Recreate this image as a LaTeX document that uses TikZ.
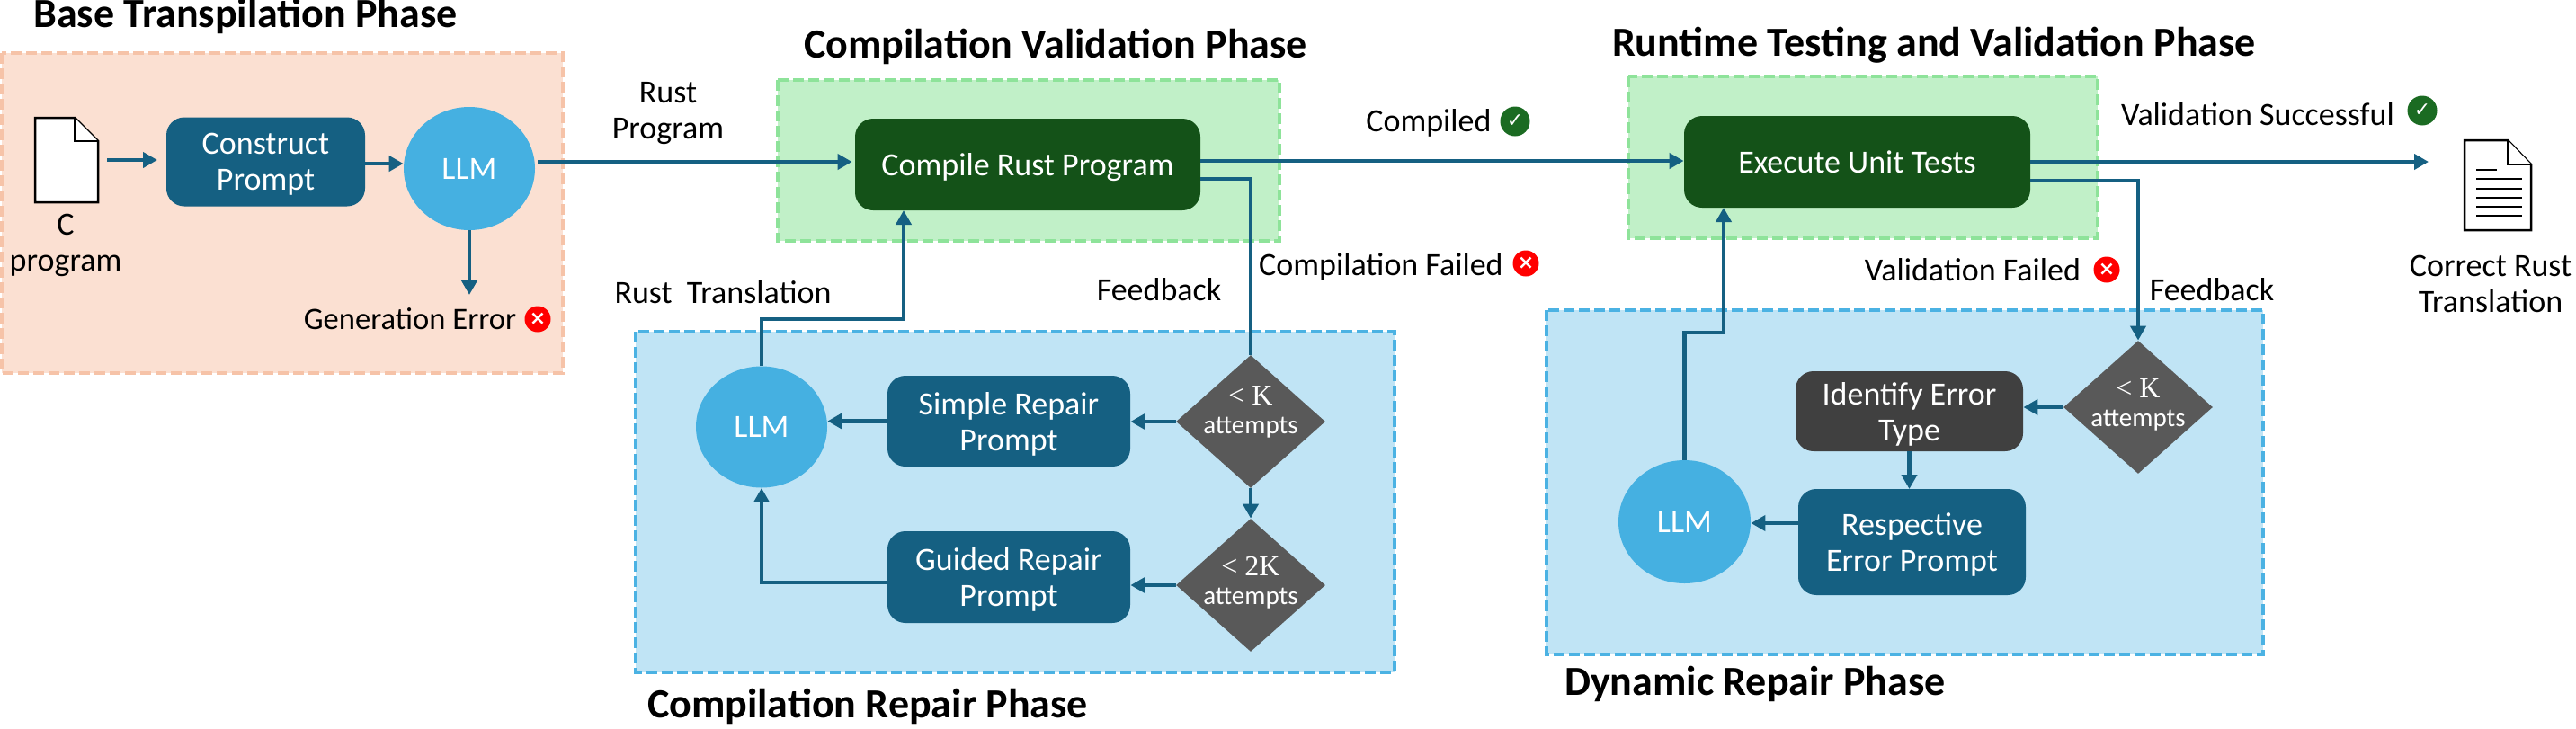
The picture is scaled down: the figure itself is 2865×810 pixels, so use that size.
\documentclass[tikz,border=0pt]{standalone}
\usepackage{fontspec}
\setmainfont{Carlito}
\newfontfamily\serifk{Liberation Serif}
\newfontfamily\symbfont{DejaVu Sans}
\usetikzlibrary{arrows.meta,shapes.geometric}
\newlength{\du}
\setlength{\du}{0.5pt}
\newcommand{\ktxt}{\serifk\fontsize{16}{16}\selectfont}
\definecolor{peachfill}{HTML}{FBE0D2}
\definecolor{peachline}{HTML}{F6C3A8}
\definecolor{greenfill}{HTML}{C1F0C8}
\definecolor{greenline}{HTML}{8EE39A}
\definecolor{bluefill}{HTML}{C0E4F5}
\definecolor{blueline}{HTML}{4BB2E3}
\definecolor{stepblue}{HTML}{156082}
\definecolor{llmblue}{HTML}{45B0E1}
\definecolor{rungreen}{HTML}{145218}
\definecolor{diagray}{HTML}{595959}
\definecolor{typegray}{HTML}{404040}
\definecolor{okgreen}{HTML}{1B6B22}
\tikzset{
  phasebox/.style={line width=4\du,dash pattern=on 12\du off 5\du},
  stepbox/.style={rectangle,rounded corners=20\du,fill=stepblue,text=white,align=center,text depth=0pt,font=\fontsize{18}{20}\selectfont},
  llm/.style={ellipse,fill=llmblue,text=white,inner sep=0pt,font=\fontsize{18}{20}\selectfont},
  dia/.style={diamond,fill=diagray,inner sep=0pt,aspect=1.13,minimum width=166\du,minimum height=148\du},
  attempts/.style={text=white,align=center,inner sep=0pt,font=\fontsize{14.5}{16}\selectfont},
  txt/.style={align=center,inner sep=0pt,font=\fontsize{18}{20}\selectfont},
  phasetitle/.style={inner sep=0pt,font=\fontsize{23}{25}\selectfont\bfseries},
  flow/.style={draw=stepblue,line width=2.1pt,-{Triangle[length=8pt,width=8.5pt]}},
  plain/.style={draw=stepblue,line width=2.1pt},
  badge/.style={circle,inner sep=0pt,minimum size=29\du,text=white,font=\symbfont\fontsize{11}{11}\selectfont\bfseries},
  docshape/.style={draw=black,line width=2.5\du,fill=white,line join=miter}
}
\begin{document}
\begin{tikzpicture}[x=\du,y=-\du]
\useasboundingbox (0,0) rectangle (2865,810);
% phase boxes
\fill[peachfill] (2,59) rectangle (626,415);
\draw[phasebox,peachline] (2,59) rectangle (626,415);
\fill[greenfill] (865,89) rectangle (1423,268);
\draw[phasebox,greenline] (865,89) rectangle (1423,268);
\fill[greenfill] (1811,85) rectangle (2333,265);
\draw[phasebox,greenline] (1811,85) rectangle (2333,265);
\fill[bluefill] (707,369) rectangle (1551,748);
\draw[phasebox,blueline] (707,369) rectangle (1551,748);
\fill[bluefill] (1720,345) rectangle (2517,728);
\draw[phasebox,blueline] (1720,345) rectangle (2517,728);
% titles
\node[phasetitle] (base title) at (273,18) {Base Transpilation Phase};
\node[phasetitle] (comp title) at (1174,52) {Compilation Validation Phase};
\node[phasetitle] (run title) at (2151,50) {Runtime Testing and Validation Phase};
\node[phasetitle] (repair title) at (965,786) {Compilation Repair Phase};
\node[phasetitle] (dyn title) at (1952,761) {Dynamic Repair Phase};
% steps
\node[stepbox,minimum width=221\du,minimum height=99\du] (construct) at (295.5,180) {Construct\\Prompt};
\node[llm,minimum width=146\du,minimum height=137\du] (llm1) at (522,187.5) {LLM};
\node[stepbox,fill=rungreen,minimum width=384\du,minimum height=102\du] (compile) at (1143,183) {Compile Rust Program};
\node[stepbox,fill=rungreen,minimum width=385\du,minimum height=102\du] (execute) at (2065.5,180) {Execute Unit Tests};
\node[llm,minimum width=146\du,minimum height=135\du] (llm2) at (847,475) {LLM};
\node[stepbox,minimum width=270\du,minimum height=101\du] (simple) at (1122,468.5) {Simple Repair\\Prompt};
\node[stepbox,minimum width=270\du,minimum height=102\du] (guided) at (1122,642) {Guided Repair\\Prompt};
\node[dia] (dk1) at (1391,469) {};
\node[attempts] (dk1 text) at (1391,458) {{\ktxt < K}\\attempts};
\node[dia] (dk2) at (1391,651) {};
\node[attempts] (dk2 text) at (1391,648) {{\ktxt < 2K}\\attempts};
\node[dia] (dk3) at (2378,453) {};
\node[attempts] (dk3 text) at (2378,450) {{\ktxt < K}\\attempts};
\node[stepbox,fill=typegray,minimum width=253\du,minimum height=89\du] (identify) at (2123.5,457.5) {Identify Error\\Type};
\node[stepbox,minimum width=253\du,minimum height=118\du] (respective) at (2126.5,603) {Respective\\Error Prompt};
\node[llm,minimum width=147\du,minimum height=137\du] (llm3) at (1873.5,580.5) {LLM};
% documents
\draw[docshape] (39,131)--(83,131)--(109,157)--(109,225)--(39,225)--cycle;
\draw[docshape] (83,131)--(83,157)--(109,157);
\draw[docshape] (2741,156)--(2789,156)--(2815,183)--(2815,256)--(2741,256)--cycle;
\draw[docshape] (2789,156)--(2789,183)--(2815,183);
\draw[black,line width=2.5\du] (2754,189)--(2777,189);
\foreach \ypos in {199,210,220,230,240}
  \draw[black,line width=2.5\du] (2754,\ypos)--(2805,\ypos);
% labels
\node[txt] (c label) at (73,273) {C\\program};
\node[txt] (rust program) at (743,126) {Rust\\Program};
\node[txt,font=\fontsize{17.3}{20}\selectfont] (gen error) at (456,355) {Generation Error};
\node[badge,fill=red] (gen badge) at (598,355) {×};
\node[txt] (compiled) at (1589,137) {Compiled};
\node[badge,fill=okgreen,minimum size=33\du] (compiled badge) at (1685,135) {✓};
\node[txt] (comp failed) at (1536,297) {Compilation Failed};
\node[badge,fill=red] (failed badge) at (1697,293) {×};
\node[txt] (rust translation) at (804,325) {Rust\ \ Translation};
\node[txt] (feedback1) at (1289,322) {Feedback};
\node[txt] (val ok) at (2511,127) {Validation Successful};
\node[badge,fill=okgreen,minimum size=33\du] (ok badge) at (2694,123) {✓};
\node[txt] (val failed) at (2194,300) {Validation Failed};
\node[badge,fill=red] (val badge) at (2343,300) {×};
\node[txt] (feedback2) at (2460,322) {Feedback};
\node[txt] (correct) at (2770,316) {Correct Rust\\Translation};
% connectors
\coordinate (cin) at (119,178);
\coordinate (cout) at (175,178);
\coordinate (llmerr) at (522,328);
\coordinate (rust out) at (2701,180);
\draw[flow] (cin) -- (cout);
\draw[flow] (construct.east |- 0,182) -- (llm1.west |- 0,182);
\draw[flow] (llm1.south) -- (llmerr);
\draw[flow,shorten >=3\du] (598,180) -- (compile.west |- 0,180);
\draw[flow] (compile.east |- 0,179) -- (execute.west |- 0,179);
\draw[plain] (compile.east |- 0,199) -| (dk1.north);
\draw[flow] (dk1.west) -- (simple.east |- dk1.west);
\draw[flow] (simple.west) -- (llm2.east |- simple.west);
\draw[flow] (dk1.south) -- (dk2.north);
\draw[flow] (dk2.west) -- (guided.east |- dk2.west);
\draw[flow] (guided.west |- 0,648) -| (llm2.south);
\draw[flow] (llm2.north) |- (1005,355) -- (1005,234);
\draw[flow] (execute.east |- 0,180) -- (rust out);
\draw[flow] (execute.east |- 0,201) -| (dk3.north);
\draw[flow] (dk3.west) -- (identify.east |- dk3.west);
\draw[flow] (identify.south) -- (2123.5,544);
\draw[flow] (respective.west |- 0,582) -- (llm3.east |- 0,582);
\draw[flow] (llm3.north) |- (1917,370) -- (1917,231);
\end{tikzpicture}
\end{document}
